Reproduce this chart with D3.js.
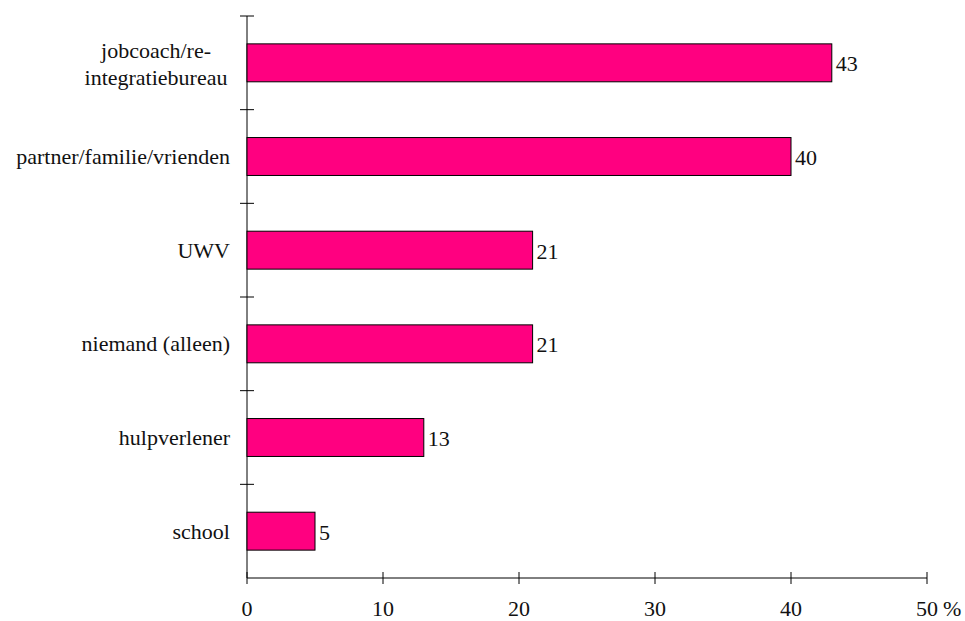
<!DOCTYPE html>
<html><head><meta charset="utf-8">
<script src="https://cdn.jsdelivr.net/npm/d3@7"></script>
<style>body{margin:0;background:#fff}svg{display:block}text{font-family:"Liberation Serif","Times New Roman",serif;fill:#111}</style>
</head><body><svg id="c" width="965" height="621"></svg>
<script>
const categories = [["jobcoach/re-","integratiebureau"],["partner/familie/vrienden"],["UWV"],["niemand (alleen)"],["hulpverlener"],["school"]];
const values = [43,40,21,21,13,5];
const xTicks = [0,10,20,30,40,50];
const unit = "%";

const FS = 22;
const svg = d3.select("#c");
const mLeft = 247, mRight = 927, mTop = 16, mBottom = 578;
const x = d3.scaleLinear().domain([0,50]).range([mLeft,mRight]);
const y = d3.scaleBand().domain(d3.range(categories.length)).range([mTop,mBottom]).paddingInner(0.595).paddingOuter(0.2975);
const bandStep = (mBottom-mTop)/categories.length;

svg.append("line").attr("x1",mLeft).attr("x2",mLeft).attr("y1",mTop).attr("y2",mBottom).attr("stroke","#000");
d3.range(categories.length).forEach(i=>{
  const yy = mTop + i*bandStep;
  svg.append("line").attr("x1",mLeft-7).attr("x2",mLeft+7).attr("y1",yy).attr("y2",yy).attr("stroke","#000");
});
svg.append("line").attr("x1",mLeft).attr("x2",mRight).attr("y1",mBottom).attr("y2",mBottom).attr("stroke","#000");
xTicks.forEach(t=>{
  svg.append("line").attr("x1",x(t)).attr("x2",x(t)).attr("y1",mBottom-6).attr("y2",mBottom+6).attr("stroke","#000");
  svg.append("text").attr("x",x(t)).attr("y",mBottom+38).attr("text-anchor","middle").attr("font-size",FS).text(t);
});
svg.append("text").attr("x",x(50)+16).attr("y",mBottom+38).attr("text-anchor","start").attr("font-size",FS).text(unit);

values.forEach((v,i)=>{
  svg.append("rect").attr("x",x(0)).attr("y",y(i)).attr("width",x(v)-x(0)).attr("height",y.bandwidth())
    .attr("fill","#FF0080").attr("stroke","#000").attr("stroke-width",1);
  svg.append("text").attr("x",x(v)+4).attr("y",y(i)+y.bandwidth()/2+8.5).attr("font-size",FS).text(v);
});

categories.forEach((lines,i)=>{
  const cy = y(i)+y.bandwidth()/2;
  if(lines.length===1){
    svg.append("text").attr("x",230).attr("y",cy+7.5).attr("text-anchor","end").attr("font-size",FS).text(lines[0]);
  } else {
    const g = svg.append("text").attr("font-size",FS).attr("text-anchor","middle");
    lines.forEach((l,k)=>{
      g.append("tspan").attr("x",156).attr("y",cy-5+k*27).text(l);
    });
  }
});
</script></body></html>
